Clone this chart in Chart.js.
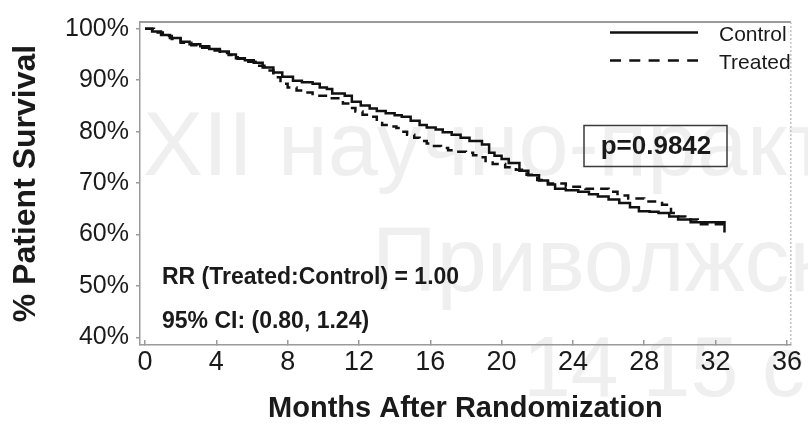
<!DOCTYPE html>
<html>
<head>
<meta charset="utf-8">
<script src="https://cdn.jsdelivr.net/npm/chart.js@4/dist/chart.umd.min.js"></script>
<style>
  html, body { margin: 0; padding: 0; background: #ffffff; }
  #wrap { width: 808px; height: 433px; }
</style>
</head>
<body>
<div id="wrap"><canvas id="c" width="808" height="433"></canvas></div>
<script>
// Kaplan-Meier survival estimates (months after randomization, % surviving)
const controlMonths = [0, 0.4, 0.9, 1.4, 2.0, 2.5, 3.1, 3.6, 4.2, 4.7, 5.1, 5.6, 6.1, 6.6, 7.2, 7.7, 8.3, 8.8, 9.4, 9.8,
  10.2, 10.5, 11.2, 11.6, 12.1, 12.6, 13.0, 13.5, 14.0, 14.4, 14.9, 15.4, 15.8, 16.3, 16.7, 17.2, 17.7, 18.2, 18.9, 19.3,
  19.6, 20.0, 20.4, 21.0, 21.5, 22.1, 22.6, 23.0, 23.6, 24.3, 24.9, 25.4, 26.0, 26.6, 27.2, 27.7, 28.3, 28.8, 29.4, 29.9,
  30.6, 32.5];
const controlSurvival = [100, 99.5, 98.8, 98.2, 97.5, 97.0, 96.6, 96.1, 95.6, 95.0, 94.3, 93.9, 93.4, 92.5, 91.5, 90.7, 89.9, 89.6, 89.3, 88.6,
  88.3, 87.4, 87.0, 85.8, 85.1, 84.5, 84.0, 83.6, 83.2, 82.9, 82.1, 81.3, 80.8, 80.4, 79.9, 79.4, 78.8, 78.2, 77.5, 75.9,
  75.3, 74.7, 73.9, 72.4, 71.5, 70.5, 69.7, 68.9, 68.6, 68.3, 67.8, 67.4, 66.8, 66.1, 65.3, 64.5, 64.4, 64.2, 63.5, 62.9,
  62.4, 60.4];

const treatedMonths = [0, 0.5, 1.0, 1.5, 2.0, 2.6, 3.1, 3.6, 4.2, 4.7, 5.2, 5.7, 6.2, 6.7, 7.2, 7.6, 8.0, 8.5, 9.0, 9.4,
  10.4, 11.1, 11.5, 11.8, 12.2, 12.6, 13.0, 13.3, 13.7, 14.1, 14.4, 14.7, 15.1, 15.4, 15.8, 16.1, 16.6, 17.0, 17.5, 18.0,
  18.4, 18.7, 19.1, 19.5, 20.2, 20.8, 21.4, 22.0, 22.6, 23.6, 24.7, 26.0, 26.5, 27.1, 28.0, 29.0, 29.5, 29.9, 30.3, 31.0,
  32.5];
const treatedSurvival = [100, 99.3, 98.6, 98.0, 97.3, 96.8, 96.3, 95.8, 95.3, 94.9, 94.2, 93.6, 92.8, 91.9, 90.6, 89.3, 88.6, 88.0, 87.6, 87.0,
  86.5, 85.5, 84.6, 83.9, 83.3, 82.9, 82.0, 81.3, 81.0, 80.7, 80.0, 79.4, 78.8, 78.2, 77.7, 77.2, 76.8, 76.4, 76.1, 75.9,
  75.4, 75.0, 74.3, 73.7, 73.1, 72.6, 71.6, 70.6, 69.9, 69.3, 68.9, 68.3, 67.6, 67.0, 66.4, 65.8, 64.2, 63.5, 62.9, 62.0,
  62.0];

const xTicks = [0, 4, 8, 12, 16, 20, 24, 28, 32, 36];
const yTicks = [40, 50, 60, 70, 80, 90, 100];

const seriesNames = ['Control', 'Treated'];
const pValueText = 'p=0.9842';
const statLines = ['RR (Treated:Control) = 1.00', '95% CI: (0.80, 1.24)'];
const xTitle = 'Months After Randomization';
const yTitle = '% Patient Survival';
const watermarkLines = ['XII научно-практ', 'Приволжск', '14 15 с'];

const FONT = '"Liberation Sans", Arial, Helvetica, sans-serif';
const INK = '#1a1a1a';
const AXIS = '#9a9a9a';

const toPoints = (xs, ys) => xs.map((x, i) => ({ x: x, y: ys[i] }));

// faint background lettering behind the plot
const watermarkPlugin = {
  id: 'watermark',
  beforeDraw(chart) {
    const ctx = chart.ctx;
    ctx.save();
    ctx.fillStyle = '#efefef';
    ctx.textBaseline = 'alphabetic';
    ctx.textAlign = 'left';
    ctx.font = '90px ' + FONT;
    ctx.fillText(watermarkLines[0], 143, 175);
    ctx.fillText(watermarkLines[1], 372, 291);
    ctx.font = '86px ' + FONT;
    ctx.fillText(watermarkLines[2], 523, 396);
    ctx.restore();
  }
};

// frame, legend key, p-value box and risk-ratio notes
const notesPlugin = {
  id: 'notes',
  afterDraw(chart) {
    const ctx = chart.ctx;
    const a = chart.chartArea;
    ctx.save();

    // top frame line and faint dotted right edge
    ctx.strokeStyle = AXIS;
    ctx.lineWidth = 2;
    ctx.beginPath();
    ctx.moveTo(a.left, a.top);
    ctx.lineTo(a.right, a.top);
    ctx.stroke();
    ctx.strokeStyle = '#c4c4c4';
    ctx.lineWidth = 1.5;
    ctx.setLineDash([2, 2]);
    ctx.beginPath();
    ctx.moveTo(a.right, a.top);
    ctx.lineTo(a.right, a.bottom);
    ctx.stroke();
    ctx.setLineDash([]);

    // legend key
    const ds = chart.data.datasets;
    const keyY = [32.5, 60.5];
    const textY = [35, 63];
    ds.forEach((d, i) => {
      ctx.strokeStyle = d.borderColor;
      ctx.lineWidth = 2.5;
      ctx.setLineDash(i === 0 ? [] : [11, 8.3]);
      ctx.beginPath();
      ctx.moveTo(610, keyY[i]);
      ctx.lineTo(698, keyY[i]);
      ctx.stroke();
      ctx.setLineDash([]);
      ctx.fillStyle = INK;
      ctx.font = '21px ' + FONT;
      ctx.textAlign = 'left';
      ctx.textBaseline = 'middle';
      ctx.fillText(d.label, 719, textY[i]);
    });

    // p-value box
    ctx.strokeStyle = '#3a3a3a';
    ctx.lineWidth = 1.5;
    ctx.strokeRect(584, 125.5, 143, 41);
    ctx.fillStyle = INK;
    ctx.font = 'bold 26px ' + FONT;
    ctx.textAlign = 'center';
    ctx.textBaseline = 'middle';
    ctx.fillText(pValueText, 656, 147);

    // risk ratio and confidence interval
    ctx.font = 'bold 23px ' + FONT;
    ctx.textAlign = 'left';
    ctx.fillText(statLines[0], 162, 278);
    ctx.fillText(statLines[1], 162, 322);

    ctx.restore();
  }
};

new Chart(document.getElementById('c'), {
  type: 'line',
  data: {
    datasets: [
      {
        label: seriesNames[0],
        data: toPoints(controlMonths, controlSurvival),
        borderColor: '#111111',
        borderWidth: 2.5,
        pointRadius: 0,
        stepped: 'before',
        fill: false
      },
      {
        label: seriesNames[1],
        data: toPoints(treatedMonths, treatedSurvival),
        borderColor: '#111111',
        borderWidth: 2.5,
        borderDash: [9, 6],
        pointRadius: 0,
        stepped: 'before',
        fill: false
      }
    ]
  },
  options: {
    responsive: false,
    devicePixelRatio: 1,
    animation: false,
    layout: { padding: { top: 15, right: 15, left: 0, bottom: 0 } },
    plugins: {
      legend: { display: false },
      tooltip: { enabled: false }
    },
    scales: {
      x: {
        type: 'linear',
        min: -0.28,
        max: 36.22,
        afterBuildTicks: (s) => { s.ticks = xTicks.map(v => ({ value: v })); },
        afterFit: (s) => { s.height = 88; },
        grid: { drawOnChartArea: false, drawTicks: true, tickLength: -5, tickColor: AXIS, lineWidth: 1.5 },
        border: { display: true, color: AXIS, width: 1.5 },
        ticks: {
          color: INK,
          font: { family: FONT, size: 27 },
          padding: 6,
          maxRotation: 0,
          autoSkip: false
        },
        title: {
          display: true,
          text: xTitle,
          color: INK,
          font: { family: FONT, size: 29, weight: 'bold' },
          padding: { top: 0, bottom: 7 }
        }
      },
      y: {
        type: 'linear',
        min: 38.5,
        max: 101.33,
        afterBuildTicks: (s) => { s.ticks = yTicks.map(v => ({ value: v })); },
        afterFit: (s) => { s.width = 140; },
        grid: { drawOnChartArea: false, drawTicks: true, tickLength: 4, tickColor: AXIS, lineWidth: 1.5 },
        border: { display: true, color: AXIS, width: 1.5 },
        ticks: {
          color: INK,
          font: { family: FONT, size: 25 },
          padding: 7,
          callback: (v) => v + '%'
        },
        title: {
          display: true,
          text: yTitle,
          color: INK,
          font: { family: FONT, size: 32, weight: 'bold' },
          padding: { top: 7, bottom: 0 }
        }
      }
    }
  },
  plugins: [watermarkPlugin, notesPlugin]
});
</script>
</body>
</html>
